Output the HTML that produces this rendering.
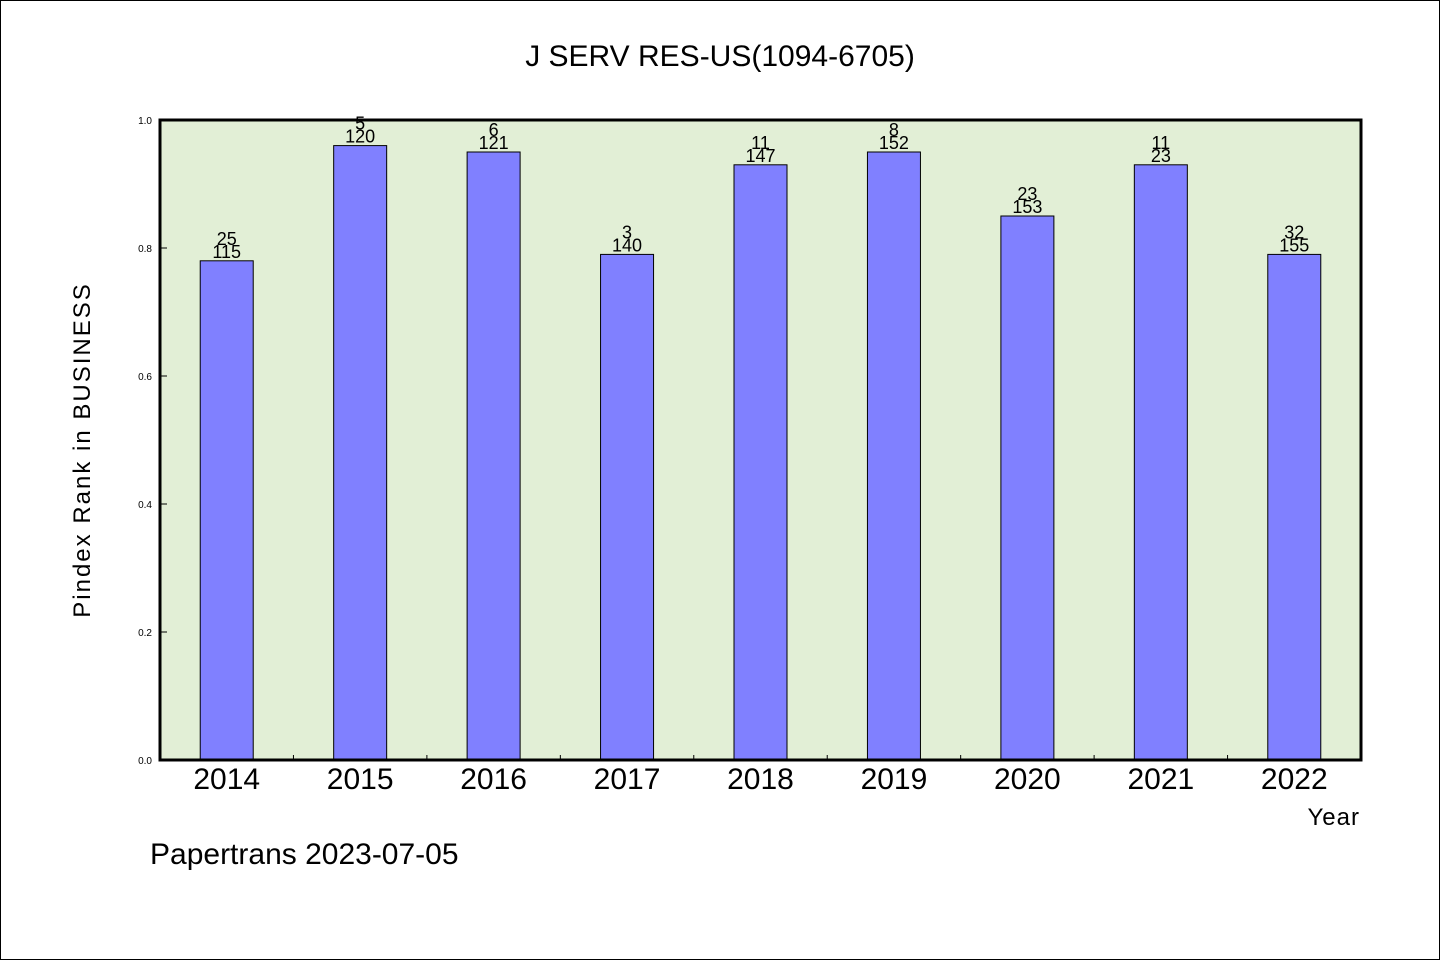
<!DOCTYPE html>
<html><head><meta charset="utf-8"><style>
body{margin:0;background:#fff}
svg{display:block}
.t{font-family:"WenQuanYi Zen Hei","Liberation Sans",sans-serif;fill:#000}
.l{font-family:"Liberation Sans",sans-serif;fill:#000}
</style></head><body>
<svg id="chart" width="1440" height="960" xmlns="http://www.w3.org/2000/svg">
<rect x="0.5" y="0.5" width="1439" height="959" fill="#fff" stroke="#000"/>
<text class="t" x="720" y="66" font-size="30" text-anchor="middle">J SERV RES-US(1094-6705)</text>
<rect x="160" y="120" width="1201" height="640" fill="#e2efd6"/>
<g id="bars"></g>
<g id="ticks"></g>
<rect x="160" y="120" width="1201" height="640" fill="none" stroke="#000" stroke-width="3"/>
<text class="t" x="90" y="450" font-size="24" text-anchor="middle" transform="rotate(-90 90 450)" letter-spacing="2">Pindex Rank in BUSINESS</text>
<text class="t" x="1360" y="825" font-size="24" text-anchor="end" letter-spacing="1">Year</text>
<text class="t" x="150" y="864" font-size="30">Papertrans 2023-07-05</text>
</svg>
<script>
const categories=["2014","2015","2016","2017","2018","2019","2020","2021","2022"];
const values=[0.78,0.96,0.95,0.79,0.93,0.95,0.85,0.93,0.79];
const topLabels=["25","5","6","3","11","8","23","11","32"];
const bottomLabels=["115","120","121","140","147","152","153","23","155"];
const yTicks=[0,0.2,0.4,0.6,0.8,1.0];
const yTickLabels=["0.0","0.2","0.4","0.6","0.8","1.0"];
const NS="http://www.w3.org/2000/svg";
const x0=160,x1=1361,y0=760,y1=120;
const band=(x1-x0)/categories.length;
const xC=i=>x0+band*(i+0.5);
const yS=v=>y0-(v)*(y0-y1);
const bars=document.getElementById('bars'),ticks=document.getElementById('ticks');
function mk(tag,attrs,parent){const e=document.createElementNS(NS,tag);for(const k in attrs)e.setAttribute(k,attrs[k]);parent.appendChild(e);return e;}
categories.forEach((c,i)=>{
  const bw=53,yt=yS(values[i]);
  const r=mk('rect',{x:xC(i)-bw/2,y:yt,width:bw,height:y0-yt,fill:'#8080ff',stroke:'#000','stroke-width':1},bars);
  
  
  const t1=mk('text',{class:'l',x:xC(i),y:yt-16,'font-size':18,'text-anchor':'middle'},bars);t1.textContent=topLabels[i];
  
  
  const t2=mk('text',{class:'l',x:xC(i),y:yt-3,'font-size':18,'text-anchor':'middle'},bars);t2.textContent=bottomLabels[i];
  
  
  const xl=mk('text',{class:'l',x:xC(i),y:789,'font-size':30,'text-anchor':'middle'},ticks);xl.textContent=c;
  
  
  if(i>0){const tk=mk('line',{x1:x0+band*i,x2:x0+band*i,y1:y0,y2:y0-5,stroke:'#000'},ticks);
  
  }
});
yTicks.forEach((v,i)=>{
  const y=yS(v);
  const tk=mk('line',{x1:x0,x2:x0+7,y1:y,y2:y,stroke:'#000'},ticks);
  
  
  const tl=mk('text',{class:'l',x:152,y:y+4,'font-size':10,'text-anchor':'end'},ticks);tl.textContent=yTickLabels[i];
  
  
});
</script>
</body></html>
